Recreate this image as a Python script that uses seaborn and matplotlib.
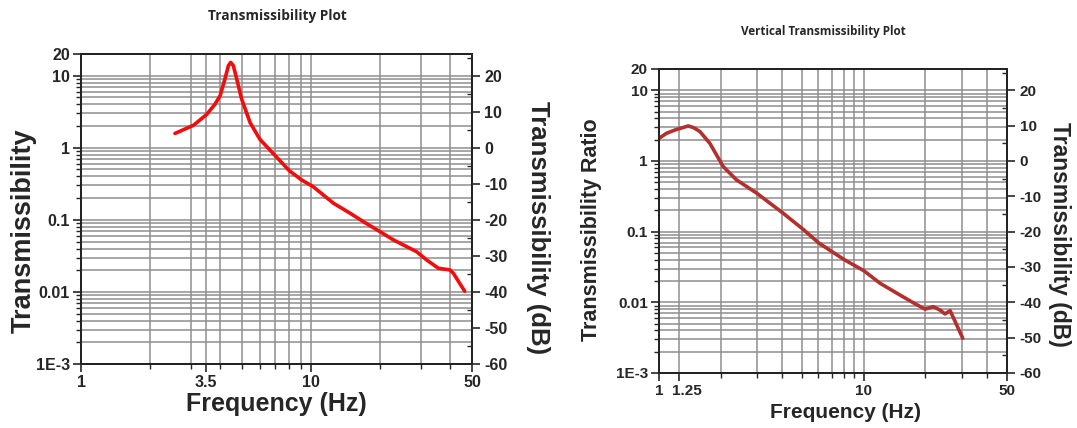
import numpy as np
import pandas as pd
import matplotlib
matplotlib.use("Agg")
import matplotlib.pyplot as plt
import matplotlib.transforms as mtransforms
from matplotlib.ticker import FixedLocator, FixedFormatter, LogLocator, NullFormatter, MultipleLocator
import seaborn as sns

# Transmissibility vs frequency (resonance near 4.5 Hz)
freq_a = [2.56, 3.08, 3.52, 3.82, 4.02, 4.22, 4.37, 4.47, 4.59, 4.75, 4.99, 5.43,
          5.99, 7.0, 8.04, 9.1, 10.2, 12.5, 14.8, 16.9, 19.9, 22.8, 26.0, 28.7,
          31.8, 35.7, 40.1, 41.5, 46.5]
trans_a = [1.58, 2.05, 2.91, 4.02, 5.26, 8.97, 13.8, 15.3, 13.8, 8.97, 4.72, 2.23,
           1.31, 0.77, 0.48, 0.357, 0.289, 0.17, 0.123, 0.094, 0.0686, 0.0526, 0.0425, 0.0362,
           0.0277, 0.0213, 0.0202, 0.0181, 0.0102]

# Vertical transmissibility ratio vs frequency
freq_b = [1.0, 1.09, 1.2, 1.39, 1.48, 1.585, 1.77, 2.06, 2.39, 3.0, 4.03, 5.07,
          6.03, 8.04, 10.0, 12.0, 15.0, 17.5, 19.9, 21.8, 23.5, 24.9, 26.4, 30.4]
trans_b = [2.09, 2.47, 2.75, 3.13, 2.95, 2.6, 1.78, 0.83, 0.54, 0.35, 0.183, 0.107,
           0.069, 0.040, 0.028, 0.0186, 0.0127, 0.0098, 0.0080, 0.00868, 0.0078, 0.00685, 0.0076, 0.0031]

x_ticks_a = [1, 3.5, 10, 50]
x_labels_a = ["1", "3.5", "10", "50"]
x_ticks_b = [1, 1.25, 10, 50]
x_labels_b = ["1", "1.25", "10", "50"]
x_minor = [2, 3, 4, 5, 6, 7, 8, 9, 20, 30, 40]
y_ticks = [1e-3, 1e-2, 0.1, 1, 10, 20]
y_labels = ["1E-3", "0.01", "0.1", "1", "10", "20"]
db_ticks = [-60, -50, -40, -30, -20, -10, 0, 10, 20]

sns.set_style("ticks")
plt.rcParams["font.family"] = ["Liberation Sans", "DejaVu Sans"]
plt.rcParams["axes.unicode_minus"] = False

W, H = 1077, 428
fig = plt.figure(figsize=(W / 100, H / 100), dpi=100)
fig.patch.set_facecolor("white")


def frac(x0, y_top, x1, y_bot):
    return [x0 / W, 1 - y_bot / H, (x1 - x0) / W, (y_bot - y_top) / H]


ax_a = fig.add_axes(frac(81, 54, 472, 364))
ax_b = fig.add_axes(frac(659, 69, 1007, 373))

GRID = "#8e8e8e"


def build(ax, freq, trans, color, xt, xl, tick_size, tick_weight):
    df = pd.DataFrame({"Frequency": freq, "Transmissibility": trans})
    sns.lineplot(data=df, x="Frequency", y="Transmissibility", ax=ax, color=color,
                 linewidth=2.6, sort=False, estimator=None, zorder=5)
    ax.set_xscale("log")
    ax.set_yscale("log")
    ax.set_xlim(1, 50)
    ax.set_ylim(1e-3, 20)
    ax.xaxis.set_major_locator(FixedLocator(xt))
    ax.xaxis.set_major_formatter(FixedFormatter(xl))
    ax.xaxis.set_minor_locator(FixedLocator(x_minor))
    ax.xaxis.set_minor_formatter(NullFormatter())
    ax.yaxis.set_major_locator(FixedLocator(y_ticks))
    ax.yaxis.set_major_formatter(FixedFormatter(y_labels))
    ax.yaxis.set_minor_locator(LogLocator(base=10, subs=np.arange(2, 10), numticks=20))
    ax.yaxis.set_minor_formatter(NullFormatter())
    ax.set_axisbelow(True)
    ax.grid(which="both", color=GRID, linewidth=1.1)
    ax.tick_params(which="major", direction="out", length=6, width=1.2,
                   labelsize=tick_size, pad=2)
    ax.tick_params(which="minor", direction="out", length=3.5, width=1.0)
    for lab in ax.get_xticklabels() + ax.get_yticklabels():
        lab.set_fontweight(tick_weight)
    for sp in ax.spines.values():
        sp.set_color("black")
        sp.set_linewidth(1.3)
    ax.set_xlabel("")
    ax.set_ylabel("")

    db = ax.twinx()
    db.set_ylim(20 * np.log10(1e-3), 20 * np.log10(20))
    db.yaxis.set_major_locator(FixedLocator(db_ticks))
    db.yaxis.set_minor_locator(MultipleLocator(5))
    db.tick_params(which="major", direction="out", length=6, width=1.2,
                   labelsize=tick_size, pad=3)
    db.tick_params(which="minor", direction="in", length=3.5, width=1.0)
    for lab in db.get_yticklabels():
        lab.set_fontweight(tick_weight)
    for sp in db.spines.values():
        sp.set_linewidth(1.3)
    return db


build(ax_a, freq_a, trans_a, "#f20c0c", x_ticks_a, x_labels_a, 11.5, "bold")
build(ax_b, freq_b, trans_b, "#b3302e", x_ticks_b, x_labels_b, 11, "bold")

# keep the "1.25" label clear of the "1" label next to it
nudge = mtransforms.ScaledTranslation(8 / 100, 0, fig.dpi_scale_trans)
lab_125 = ax_b.get_xticklabels()[1]
lab_125.set_transform(lab_125.get_transform() + nudge)

# Titles
fig.text(277 / W, 1 - 16 / H, "Transmissibility Plot", ha="center", va="center",
         fontsize=9.8, fontweight="bold", family=["Open Sans", "DejaVu Sans"])
fig.text(823 / W, 1 - 31 / H, "Vertical Transmissibility Plot", ha="center", va="center",
         fontsize=8.4, fontweight="bold", family=["Open Sans", "DejaVu Sans"])

# Axis titles, left chart
fig.text(24 / W, 1 - 231 / H, "Transmissibility", rotation=90, ha="center", va="center",
         fontsize=19.5, fontweight="bold")
fig.text(538 / W, 1 - 228 / H, "Transmissibility (dB)", rotation=270, ha="center", va="center",
         fontsize=18.5, fontweight="bold")
fig.text(276 / W, 1 - 404 / H, "Frequency (Hz)", ha="center", va="center",
         fontsize=18, fontweight="bold")

# Axis titles, right chart
fig.text(592 / W, 1 - 230 / H, "Transmissibility Ratio", rotation=90, ha="center", va="center",
         fontsize=15.5, fontweight="bold")
fig.text(1060 / W, 1 - 234 / H, "Transmissibility (dB)", rotation=270, ha="center", va="center",
         fontsize=16.5, fontweight="bold")
fig.text(846 / W, 1 - 413 / H, "Frequency (Hz)", ha="center", va="center",
         fontsize=15, fontweight="bold")

fig.savefig("out.png", dpi=100, facecolor="white")
